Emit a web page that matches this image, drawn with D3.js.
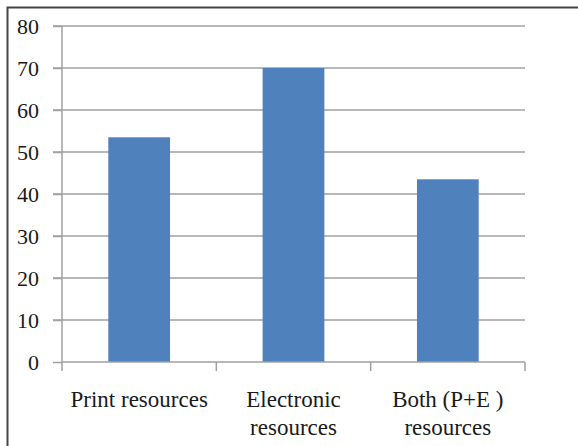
<!DOCTYPE html>
<html><head><meta charset="utf-8">
<script src="https://cdn.jsdelivr.net/npm/d3@7"></script>
<style>body{margin:0;background:#fff}svg{display:block}</style>
</head><body>
<svg id="c" width="578" height="446"></svg>
<script>
const categories = [["Print resources"], ["Electronic", "resources"], ["Both (P+E )", "resources"]];
const values = [53.5, 70, 43.5];
const yTicks = [0, 10, 20, 30, 40, 50, 60, 70, 80];

(function () {
const svg = d3.select("#c");
const mLeft = 62, mRight = 525, mTop = 26, mBottom = 362;

// outer border (right/bottom cut off in image)
svg.append("rect").attr("x", 7.5).attr("y", 7.5).attr("width", 600).attr("height", 600)
  .attr("fill", "none").attr("stroke", "#444").attr("stroke-width", 2);

const x = d3.scaleBand().domain(d3.range(categories.length)).range([mLeft, mRight]).paddingInner(0.6).paddingOuter(0.3);
const xb = d3.scaleBand().domain(d3.range(categories.length)).range([mLeft, mRight]);
const y = d3.scaleLinear().domain([0, 80]).range([mBottom, mTop]);

// gridlines
svg.append("g").selectAll("line").data(yTicks.filter(d => d > 0)).join("line")
  .attr("x1", mLeft - 9).attr("x2", mRight).attr("y1", d => y(d)).attr("y2", d => y(d))
  .attr("stroke", "#a0a0a0").attr("stroke-width", 1.5);

// bars
svg.append("g").selectAll("rect").data(values).join("rect")
  .attr("x", (d, i) => x(i)).attr("width", x.bandwidth())
  .attr("y", d => y(d)).attr("height", d => y(0) - y(d))
  .attr("fill", "#4f81bd");

// y axis
const yAxis = d3.axisLeft(y).tickValues(yTicks).tickSize(9).tickPadding(14);
const gy = svg.append("g").attr("transform", `translate(${mLeft},0)`).call(yAxis);
gy.select(".domain").attr("stroke", "#a0a0a0").attr("stroke-width", 1.5).attr("d", `M0,${mTop}V${mBottom + 9}`);
gy.selectAll(".tick line").attr("stroke", "#a0a0a0").attr("stroke-width", 1.5);
gy.selectAll("text").attr("font-family", "Liberation Serif").attr("font-size", 22).attr("fill", "#1a1a1a");

// x axis
const gx = svg.append("g").attr("transform", `translate(0,${mBottom})`);
gx.append("line").attr("x1", mLeft).attr("x2", mRight).attr("y1", 0).attr("y2", 0)
  .attr("stroke", "#a0a0a0").attr("stroke-width", 1.5);
gx.selectAll("line.t").data(d3.range(categories.length)).join("line").attr("class", "t")
  .attr("x1", i => xb(i) + xb.bandwidth()).attr("x2", i => xb(i) + xb.bandwidth())
  .attr("y1", 0).attr("y2", 9).attr("stroke", "#a0a0a0").attr("stroke-width", 1.5);

const lbl = svg.append("g").selectAll("text").data(categories).join("text")
  .attr("text-anchor", "middle").attr("font-family", "Liberation Serif").attr("font-size", 23)
  .attr("fill", "#1a1a1a");
lbl.each(function (d, i) {
  const t = d3.select(this);
  d.forEach((line, k) => {
    t.append("tspan").attr("x", xb(i) + xb.bandwidth() / 2).attr("y", 407 + k * 28).text(line);
  });
});
})();
</script>
</body></html>
